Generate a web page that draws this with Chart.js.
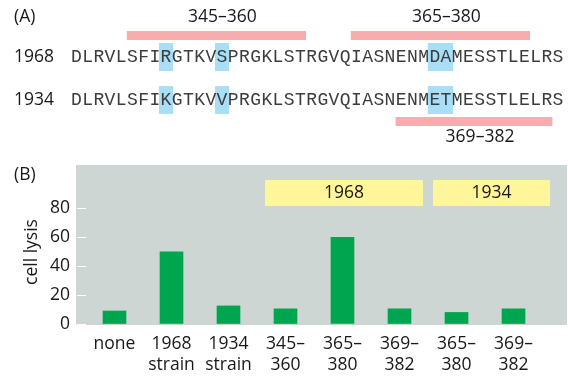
<!DOCTYPE html>
<html>
<head>
<meta charset="utf-8">
<script src="https://cdn.jsdelivr.net/npm/chart.js@4.4.1/dist/chart.umd.min.js"></script>
<style>
  html, body { margin: 0; padding: 0; background: #fff; }
  canvas { display: block; }
</style>
</head>
<body>
<canvas id="lysis" width="568" height="376"></canvas>
<script>
// (A) the stretch of sequence starting at residue 340, for both strains
const firstResidue = 340;
const strains = ['1968', '1934'];
const sequences = [
    'DLRVLSFIRGTKVSPRGKLSTRGVQIASNENMDAMESSTLELRS',
    'DLRVLSFIKGTKVVPRGKLSTRGVQIASNENMETMESSTLELRS'
];
const peptidesAbove = [[345, 360], [365, 380]];
const peptidesBelow = [[369, 382]];

// (B) cell lysis per peptide
const conditions = [['none'], ['1968', 'strain'], ['1934', 'strain'], ['345–', '360'], ['365–', '380'], ['369–', '382'], ['365–', '380'], ['369–', '382']];
const lysis = [9, 50, 12.5, 10.5, 60, 10.5, 8, 10.5];
const yTicks = [0, 20, 40, 60, 80];
const peptideGroups = [['1968', 3, 5], ['1934', 6, 7]];

const INK = '#1a1718';
const SANS = '"Open Sans", sans-serif';
const FONT = '500 17.5px ' + SANS;
const MONO = '"Liberation Mono", monospace';
const GREEN = '#00a54f';
const PANEL = '#cdd6d2';
const YELLOW = '#fff59b';
const PINK = '#f7adad';
const BLUE = '#a8def6';

const seqLeft = 70.8, pitch = 11.2;
const rowY = [57, 100];
const cellLeft = n => seqLeft + (n - firstResidue) * pitch;
const cellMid = n => cellLeft(n) + pitch / 2;

// runs of residues that differ between the two strains
function changedRuns() {
    const runs = [];
    for (let i = 0; i < sequences[0].length; i++) {
        if (sequences[0][i] === sequences[1][i]) continue;
        const n = firstResidue + i;
        const last = runs[runs.length - 1];
        if (last && last[1] === n - 1) last[1] = n; else runs.push([n, n]);
    }
    return runs;
}

function text(ctx, str, x, y, align) {
    ctx.font = FONT;
    ctx.fillStyle = INK;
    ctx.textAlign = align || 'center';
    ctx.textBaseline = 'middle';
    ctx.fillText(str, x, y);
}

function drawSequences(ctx) {
    text(ctx, '(A)', 14, 17, 'left');

    // peptide bars and their ranges
    peptidesAbove.forEach(([a, b]) => {
        ctx.fillStyle = PINK;
        ctx.fillRect(cellLeft(a), 31, cellLeft(b + 1) - cellLeft(a), 9);
        text(ctx, a + '–' + b, (cellLeft(a) + cellLeft(b + 1)) / 2 + 6, 17);
    });
    peptidesBelow.forEach(([a, b]) => {
        ctx.fillStyle = PINK;
        ctx.fillRect(cellLeft(a), 117, cellLeft(b + 1) - cellLeft(a), 9);
        text(ctx, a + '–' + b, (cellLeft(a) + cellLeft(b + 1)) / 2 + 6, 137);
    });

    // highlight the exchanged residues
    const runs = changedRuns();
    rowY.forEach(y => {
        runs.forEach(([a, b]) => {
            ctx.fillStyle = BLUE;
            ctx.fillRect(cellMid(a) - 7, y - 14, cellMid(b) - cellMid(a) + 14, 28);
        });
    });

    sequences.forEach((seq, r) => {
        text(ctx, strains[r], 14, rowY[r], 'left');
        ctx.font = '18px ' + MONO;
        ctx.fillStyle = '#3c3c3c';
        ctx.textAlign = 'center';
        ctx.textBaseline = 'alphabetic';
        for (let i = 0; i < seq.length; i++) {
            ctx.fillText(seq[i], cellMid(firstResidue + i), rowY[r] + 5);
        }
    });
}

const figurePlugin = {
    id: 'figure',
    beforeDraw(chart) {
        const { ctx, chartArea: area, scales } = chart;
        ctx.save();
        ctx.fillStyle = '#fff';
        ctx.fillRect(0, 0, chart.width, chart.height);
        ctx.fillStyle = PANEL;
        ctx.fillRect(area.left - 10, area.top, area.right - area.left + 35, area.bottom - area.top + 1);

        // strain boxes over the peptide bars
        const x = scales.x;
        peptideGroups.forEach(([name, from, to], k) => {
            const x0 = x.getPixelForValue(from) - (k === 0 ? 20.5 : 23.5);
            const x1 = x.getPixelForValue(to) + (k === 0 ? 23.5 : 36.5);
            ctx.fillStyle = YELLOW;
            ctx.fillRect(x0, 180, x1 - x0, 26);
            text(ctx, name, (x0 + x1) / 2, 193);
        });

        text(ctx, '(B)', 14, 175, 'left');
        ctx.translate(32, 252);
        ctx.rotate(-Math.PI / 2);
        text(ctx, 'cell lysis', 0, 0);
        ctx.restore();
    },
    afterDraw(chart) {
        chart.ctx.save();
        drawSequences(chart.ctx);
        chart.ctx.restore();
    }
};

new Chart(document.getElementById('lysis'), {
    type: 'bar',
    data: {
        labels: conditions,
        datasets: [{ data: lysis, backgroundColor: GREEN, barThickness: 23 }]
    },
    options: {
        responsive: false,
        animation: false,
        layout: { padding: { top: 165, right: 26, left: 0, bottom: 0 } },
        plugins: { legend: { display: false }, tooltip: { enabled: false } },
        scales: {
            x: {
                grid: { display: false, drawTicks: false },
                border: { display: false },
                ticks: {
                    color: INK, autoSkip: false, maxRotation: 0, padding: 10,
                    font: { family: SANS, size: 17.5, weight: 500, lineHeight: 1.2 }
                },
                afterFit(scale) { scale.height = 52; }
            },
            y: {
                min: 0,
                max: 110,
                afterBuildTicks(scale) { scale.ticks = yTicks.map(v => ({ value: v })); },
                afterFit(scale) { scale.width = 86; },
                grid: { drawOnChartArea: false, color: '#fff', tickLength: 9 },
                border: { display: false },
                ticks: { color: INK, padding: 7, font: { family: SANS, size: 17.5, weight: 500 } }
            }
        }
    },
    plugins: [figurePlugin]
});
</script>
</body>
</html>
